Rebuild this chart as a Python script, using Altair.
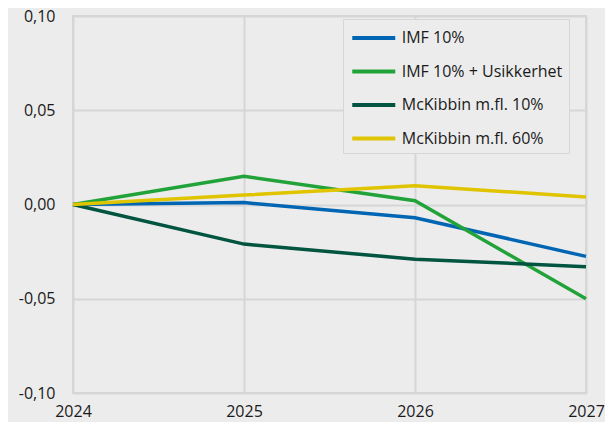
import altair as alt
import pandas as pd

years = [2024, 2025, 2026, 2027]
series_names = ["IMF 10%", "IMF 10% + Usikkerhet", "McKibbin m.fl. 10%", "McKibbin m.fl. 60%"]
imf_10 = [0.0, 0.001, -0.007, -0.0275]
imf_10_usikkerhet = [0.0, 0.015, 0.002, -0.050]
mckibbin_10 = [0.0, -0.021, -0.029, -0.033]
mckibbin_60 = [0.0, 0.005, 0.010, 0.004]
colors = ["#0066b3", "#22a33a", "#005440", "#e0c400"]

rows = []
for name, vals in zip(series_names, [imf_10, imf_10_usikkerhet, mckibbin_10, mckibbin_60]):
    for y, v in zip(years, vals):
        rows.append({"År": y, "Verdi": v, "Serie": name})
df = pd.DataFrame(rows)

num_expr = "replace(replace(format(datum.value, '.2f'), '.', ','), '\u2212', '-')"
FONT = "Open Sans"

chart = alt.Chart(df).mark_line(strokeWidth=3.5).encode(
    x=alt.X("År:Q", scale=alt.Scale(domain=[2024, 2027], nice=False, zero=False),
            axis=alt.Axis(values=years, format="d", title=None, ticks=False,
                          labelPadding=10, grid=True, domain=False, labelFlush=False)),
    y=alt.Y("Verdi:Q", scale=alt.Scale(domain=[-0.1, 0.1], nice=False),
            axis=alt.Axis(values=[-0.1, -0.05, 0.0, 0.05, 0.1], labelExpr=num_expr, title=None,
                          ticks=False, labelPadding=18, grid=True, domain=False)),
    color=alt.Color("Serie:N", scale=alt.Scale(domain=series_names, range=colors),
                    legend=alt.Legend(title=None, orient="none", legendX=270, legendY=3,
                                      symbolType="M-2,0H2", symbolSize=462, symbolStrokeWidth=3.8,
                                      symbolOffset=11.75, labelLimit=400,
                                      strokeColor="#d6d6d6", fillColor="#ececec", padding=6,
                                      rowPadding=12.5, labelFontSize=16, labelColor="#1a1a1a",
                                      labelFont=FONT, labelOffset=15)),
).properties(
    width=513, height=377,
    autosize=alt.AutoSizeParams(type="none"),
    padding={"left": 65, "top": 8, "right": 19, "bottom": 29},
).configure(
    background="#ececec",
    font=FONT,
).configure_view(
    stroke="#d6d6d6", strokeWidth=2,
).configure_axis(
    gridColor="#d6d6d6", gridWidth=2, labelFontSize=16, labelColor="#1a1a1a", labelFont=FONT,
)

chart.save("out.html", embed_options={"renderer": "svg", "actions": False})
